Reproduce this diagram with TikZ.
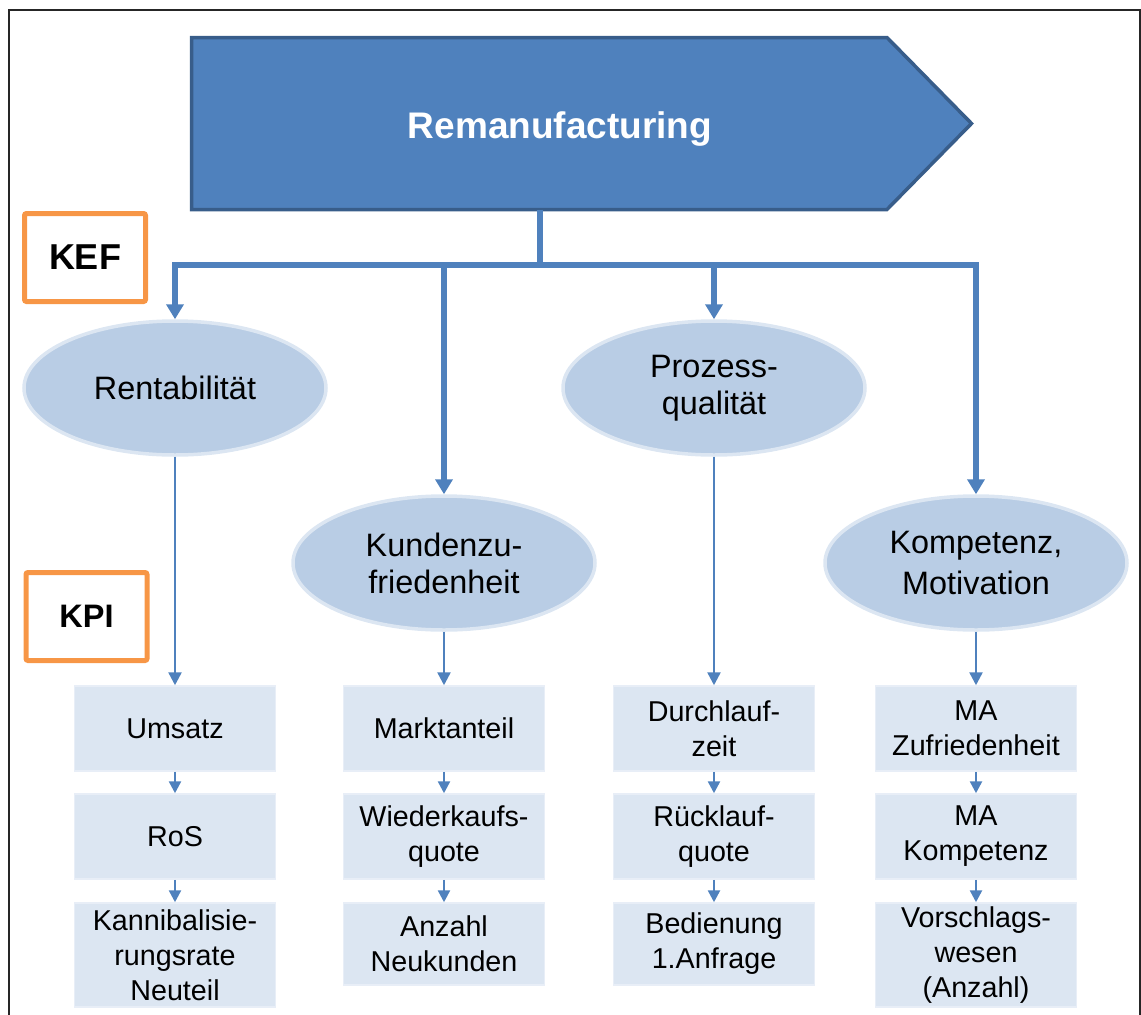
\documentclass[tikz,border=0pt]{standalone}
\usepackage{fontspec}
\setmainfont{Liberation Sans}
\usetikzlibrary{arrows.meta,shapes.geometric}
\definecolor{bannerfill}{HTML}{4F81BD}
\definecolor{bannerline}{HTML}{385D8A}
\definecolor{linkblue}{HTML}{4F81BD}
\definecolor{keffill}{HTML}{B9CDE5}
\definecolor{kefline}{HTML}{DCE6F2}
\definecolor{kpifill}{HTML}{DCE6F2}
\definecolor{kpiline}{HTML}{E8EEF7}
\definecolor{tagorange}{HTML}{F79646}
\definecolor{framegray}{HTML}{262626}

\begin{document}
\begin{tikzpicture}[x=1pt,y=-1pt,
  trunk/.style={draw=linkblue,line width=5.5pt},
  bigtip/.style={-{Triangle[width=17pt,length=15pt]}},
  twig/.style={draw=linkblue,line width=2.5pt,-{Triangle[width=13pt,length=13pt]}},
  stub/.style={draw=linkblue,line width=2.5pt,-{Triangle[width=12pt,length=12pt]}},
  kef/.style={ellipse,fill=keffill,draw=kefline,line width=3.5pt,
    minimum width=302pt,minimum height=134pt,inner sep=0pt,align=center,
    font=\fontsize{32.4}{37}\selectfont},
  kpi/.style={rectangle,fill=kpifill,draw=kpiline,line width=1.5pt,
    minimum width=201pt,minimum height=85pt,inner sep=0pt,align=center,
    font=\fontsize{28.7}{35}\selectfont},
  tag/.style={rectangle,draw=tagorange,line width=5pt,rounded corners=2pt,
    minimum width=121pt,minimum height=88pt,inner sep=0pt},
]
\useasboundingbox (0,0) rectangle (1141,1015);

% outer frame (open at the bottom)
\draw[framegray,line width=2pt] (9,1015) -- (9,10) -- (1139.5,10) -- (1139.5,1015);

% banner arrow
\draw[fill=bannerfill,draw=bannerline,line width=3.5pt,line join=miter]
  (191.5,37.5) -- (887,37.5) -- (971.5,123.5) -- (887,209.5) -- (191.5,209.5) -- cycle;
\node[anchor=base,text=white,font=\bfseries\fontsize{37}{40}\selectfont]
  (remanu) at (560,138) {Remanufacturing};
\coordinate (bannerbot) at (540,209.5);
\coordinate (hub) at (540,265);

% level labels
\node[tag,font=\bfseries\fontsize{36}{40}\selectfont] (keflabel) at (85,257.5) {KEF};
\node[tag,font=\bfseries\fontsize{32.5}{40}\selectfont] (kpilabel) at (86.5,616.5) {KPI};

% success factors
\node[kef] (rent) at (175,388) {Rentabilität};
\node[kef] (proz) at (714,388) {Prozess-\\qualität};
\node[kef] (kund) at (444,563) {Kundenzu-\\friedenheit};
\node[kef,font=\fontsize{32.4}{41}\selectfont] (komp) at (976,563) {Kompetenz,\\Motivation};

% distribution lines
\draw[trunk] (bannerbot) -- (hub);
\draw[trunk,bigtip] (hub) -| (rent.north);
\draw[trunk,bigtip] (hub) -| (kund.north);
\draw[trunk,bigtip] (hub) -| (proz.north);
\draw[trunk,bigtip] (hub) -| (komp.north);

% indicators
\node[kpi] (umsatz) at (175,728.5) {Umsatz};
\node[kpi] (ros) at (175,836.5) {RoS};
\node[kpi,minimum height=104pt] (kannib) at (175,955) {Kannibalisie-\\rungsrate\\Neuteil};

\node[kpi] (markt) at (444,728.5) {Marktanteil};
\node[kpi] (wieder) at (444,836.5) {Wiederkaufs-\\quote};
\node[kpi,minimum height=82pt] (anzahl) at (444,944) {Anzahl\\Neukunden};

\node[kpi] (durch) at (714,728.5) {Durchlauf-\\zeit};
\node[kpi] (rueck) at (714,836.5) {Rücklauf-\\quote};
\node[kpi,minimum height=82pt] (bedien) at (714,944) {Bedienung\\1.Anfrage};

\node[kpi] (mazuf) at (976,728.5) {MA\\Zufriedenheit};
\node[kpi] (makomp) at (976,836.5) {MA\\Kompetenz};
\node[kpi,minimum height=104pt] (vorschl) at (976,955) {Vorschlags-\\wesen\\(Anzahl)};

% factor to indicator links
\draw[twig] (rent.south) -- (umsatz.north);
\draw[twig] (kund.south) -- (markt.north);
\draw[twig] (proz.south) -- (durch.north);
\draw[twig] (komp.south) -- (mazuf.north);

% indicator chains
\draw[stub] (umsatz.south) -- (ros.north);
\draw[stub] (ros.south) -- (kannib.north);
\draw[stub] (markt.south) -- (wieder.north);
\draw[stub] (wieder.south) -- (anzahl.north);
\draw[stub] (durch.south) -- (rueck.north);
\draw[stub] (rueck.south) -- (bedien.north);
\draw[stub] (mazuf.south) -- (makomp.north);
\draw[stub] (makomp.south) -- (vorschl.north);
\end{tikzpicture}
\end{document}
